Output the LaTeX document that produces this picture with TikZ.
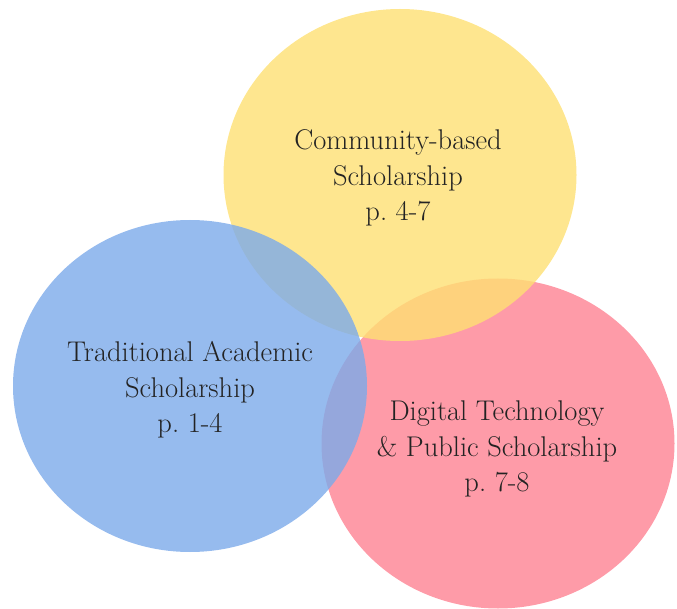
\documentclass[tikz,border=0pt]{standalone}
\usepackage{fontspec}
\frenchspacing
\definecolor{cyellow}{RGB}{254,224,115}
\definecolor{cblue}{RGB}{124,170,234}
\definecolor{cpink}{RGB}{254,130,146}
\definecolor{ctext}{RGB}{35,35,35}
\begin{document}
\begin{tikzpicture}[x=1pt,y=-1pt,
  blob/.style={opacity=0.8},
  lbl/.style={align=center,text=ctext,font=\fontsize{28.5}{35.5}\selectfont\addfontfeatures{FakeBold=0.7}}]
\useasboundingbox (0,0) rectangle (677,609);
\fill[blob,cpink] (498,443.5) ellipse [x radius=176.5, y radius=165] coordinate (pinkc);
\fill[blob,cyellow] (400,175) ellipse [x radius=176.5, y radius=166] coordinate (yellowc);
\fill[blob,cblue] (190,386) ellipse [x radius=177, y radius=166] coordinate (bluec);
\node[lbl] (tcomm) at (398,178) {Community-based\\Scholarship\\p. 4-7};
\node[lbl] (ttrad) at (190,390) {Traditional Academic\\Scholarship\\p. 1-4};
\node[lbl] (tdig) at (497,449) {Digital Technology\\\& Public Scholarship\\p. 7-8};
\end{tikzpicture}
\end{document}
